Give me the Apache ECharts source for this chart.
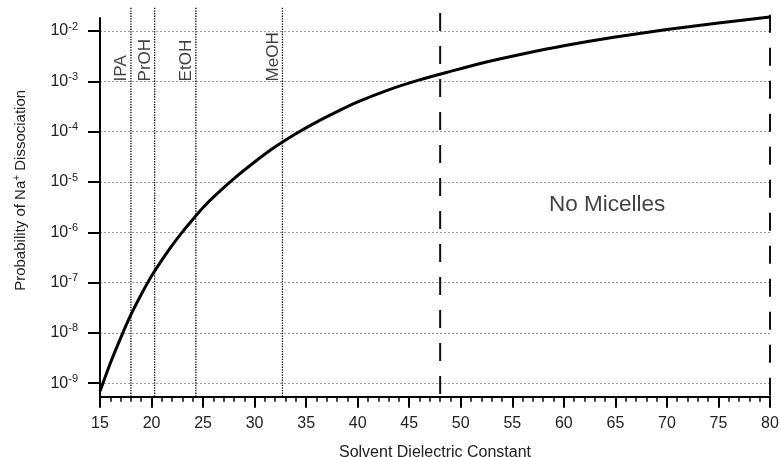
<!DOCTYPE html>
<html><head><meta charset="utf-8">
<script src="https://cdn.jsdelivr.net/npm/echarts@6/dist/echarts.min.js"></script>
<style>html,body{margin:0;padding:0;background:#fff}#c{width:780px;height:457px}</style>
</head><body><div id="c"></div>
<script>
// Curve: probability of Na+ dissociation vs solvent dielectric constant
const dielectric = [15, 16, 17, 18, 19, 20, 21, 22, 23, 24, 25, 26, 28, 30, 32, 34, 36, 38, 40, 43, 46, 49, 52, 56, 60, 65, 70, 75, 80];
const probability = [6.9e-10, 2.5e-9, 7.9e-9, 2.3e-8, 5.8e-8, 1.35e-7, 2.8e-7, 5.5e-7, 1.02e-6, 1.8e-6, 3.1e-6, 5.0e-6, 1.17e-5, 2.5e-5, 5.0e-5, 9.1e-5, 1.55e-4, 2.5e-4, 3.9e-4, 6.8e-4, 1.07e-3, 1.58e-3, 2.3e-3, 3.5e-3, 5.1e-3, 7.6e-3, 1.07e-2, 1.45e-2, 1.9e-2];
// Solvent markers
const solventNames = ['IPA', 'PrOH', 'EtOH', 'MeOH'];
const solventDielectric = [18.0, 20.3, 24.3, 32.7];
// Micelle boundary lines
const micelleBounds = [48, 80];
const regionLabel = 'No Micelles';
// Axis ticks
const xMin = 15, xMax = 80, xStep = 5;
const yTickValues = [1e-9, 1e-8, 1e-7, 1e-6, 1e-5, 1e-4, 1e-3, 1e-2];
const yMin = 5.4e-10, yMax = 1.82e-2;

const FONT = '"Liberation Sans", Arial, sans-serif';
const dottedTop = 2.9e-2;
const dashedTops = [2.3e-2, 2.1e-2];
const solventLabelY = 1.0e-3;
const regionLabelPos = [64.2, 3.5e-6];

const series = [];
solventDielectric.forEach((x) => {
  series.push({
    type: 'line', data: [[x, dottedTop], [x, yMin]], symbol: 'none', clip: false, silent: true,
    lineStyle: { color: '#000', width: 1.3, type: [1.3, 1.3] }, z: 2
  });
});
micelleBounds.forEach((x, i) => {
  series.push({
    type: 'line', data: [[x, dashedTops[i]], [x, yMin]], symbol: 'none', clip: false, silent: true,
    lineStyle: { color: '#111', width: 2, type: [18, 15] }, z: 2
  });
});
series.push({
  type: 'line', data: dielectric.map((x, i) => [x, probability[i]]), symbol: 'none',
  smooth: 0.25, clip: false,
  lineStyle: { color: '#000', width: 3 }, z: 5
});
series.push({
  type: 'scatter', symbolSize: 0, silent: true, z: 6,
  data: solventNames.map((n, i) => ({ name: n, value: [solventDielectric[i], solventLabelY] })),
  label: { show: true, formatter: '{b}', position: [-1, 0], rotate: 90, align: 'left', verticalAlign: 'bottom',
    fontSize: 17, fontFamily: FONT, color: '#111' }
});
series.push({
  type: 'scatter', symbolSize: 0, silent: true, z: 6,
  data: [{ name: regionLabel, value: regionLabelPos }],
  label: { show: true, formatter: '{b}', position: [0, 0], align: 'center', verticalAlign: 'middle',
    fontSize: 22.5, fontFamily: FONT, color: '#111' }
});

const chart = echarts.init(document.getElementById('c'), null, { renderer: 'canvas' });
chart.setOption({
  animation: false,
  backgroundColor: '#fff',
  grid: { left: 100, right: 10, top: 18, bottom: 60.3, outerBoundsMode: 'none', containLabel: false },
  xAxis: {
    type: 'value', min: xMin, max: xMax, interval: xStep,
    axisLine: { onZero: false, lineStyle: { color: '#000', width: 2 } },
    axisTick: { length: 11, lineStyle: { color: '#000', width: 2 } },
    minorTick: { show: true, splitNumber: 5, length: 5, lineStyle: { color: '#000', width: 1.5 } },
    axisLabel: { margin: 19, fontSize: 16, fontFamily: FONT, color: '#222' },
    splitLine: { show: false },
    name: 'Solvent Dielectric Constant', nameLocation: 'middle', nameGap: 48,
    nameTextStyle: { fontSize: 16, fontFamily: FONT, color: '#222' }
  },
  yAxis: {
    type: 'log', logBase: 10, min: yMin, max: yMax,
    axisLine: { show: true, onZero: false, lineStyle: { color: '#000', width: 2 } },
    axisTick: { show: true, length: 12, customValues: yTickValues, lineStyle: { color: '#000', width: 2 } },
    axisLabel: {
      customValues: yTickValues, margin: 22,
      formatter: v => { const e = v > 0 ? Math.round(Math.log10(v)) : Math.round(v); return '{b|10}{e|' + e + '}'; },
      rich: {
        b: { fontSize: 16, fontFamily: FONT, color: '#222' },
        e: { fontSize: 11, fontFamily: FONT, color: '#222', padding: [0, 0, 9, 0], verticalAlign: 'bottom' }
      }
    },
    splitLine: { show: true, lineStyle: { color: '#999', width: 1, type: [2, 2] } },
    name: 'Probability of Na{s|+} Dissociation', nameLocation: 'middle', nameGap: 70,
    nameTextStyle: {
      fontSize: 15, fontFamily: FONT, color: '#222', padding: [0, 0, 0, 34],
      rich: { s: { fontSize: 10, fontFamily: FONT, color: '#222', padding: [0, 0, 8, 0], verticalAlign: 'bottom' } }
    }
  },
  series: series
});
</script></body></html>
